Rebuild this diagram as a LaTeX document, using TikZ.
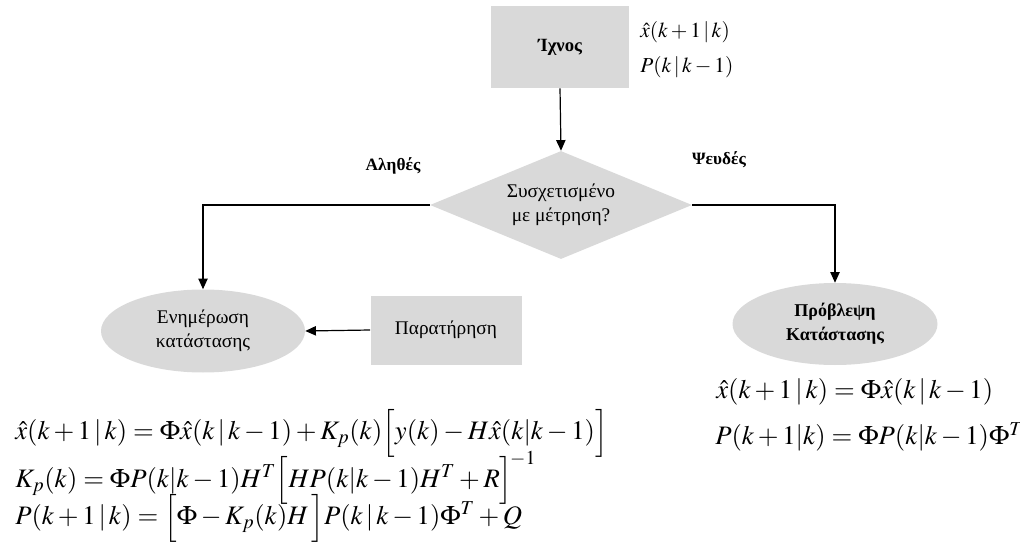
\documentclass[tikz,border=0pt]{standalone}
\usepackage{mathptmx}
\usepackage[no-math]{fontspec}
\setmainfont{Liberation Serif}
\usetikzlibrary{shapes.geometric,arrows.meta}
\definecolor{boxgray}{RGB}{217,217,217}
\begin{document}
\begin{tikzpicture}[x=0.75pt,y=-0.75pt,
  lbl/.style={font=\fontsize{14.5}{18}\selectfont, align=center},
  rectbox/.style={rectangle, fill=boxgray, draw=none, inner sep=0pt, lbl},
  decbox/.style={diamond, fill=boxgray, draw=none, inner sep=0pt, aspect=2.4, lbl},
  ovalbox/.style={ellipse, fill=boxgray, draw=none, inner sep=0pt, lbl},
  flow/.style={draw=black, line width=0.9pt, -{Triangle[length=8pt,width=7pt]}},
  eq/.style={font=\fontsize{20}{24}\selectfont, anchor=west, inner sep=0pt},
  smalleq/.style={font=\fontsize{16}{19}\selectfont, anchor=west, inner sep=0pt},
  tag/.style={font=\fontsize{13}{17}\selectfont\bfseries, inner sep=0pt}]
  \useasboundingbox (0,0) rectangle (1020,545);

  % flowchart nodes
  \node[rectbox, minimum width=103.5pt, minimum height=61.5pt, font=\fontsize{14}{17}\selectfont\bfseries]
       (trace) at (560,47) {Ίχνος};
  \node[decbox, minimum width=196.5pt, minimum height=81pt] (decide) at (561,205)
       {Συσχετισμένο\\με μέτρηση?};
  \node[ovalbox, minimum width=153pt, minimum height=62.25pt] (update) at (203,331)
       {Ενημέρωση\\κατάστασης};
  \node[rectbox, minimum width=113.25pt, minimum height=51.75pt] (obs) at (446,330) {Παρατήρηση};
  \node[ovalbox, minimum width=153.75pt, minimum height=61.5pt, font=\fontsize{13.5}{18}\selectfont\bfseries]
       (predict) at (835,324) {Πρόβλεψη\\Κατάστασης};

  % branch labels
  \node[tag] (yes) at (393,166) {Αληθές};
  \node[tag] (no) at (719,160) {Ψευδές};

  % track quantities
  \node[smalleq] (xtrk) at (640,32) {$\hat{x}(k+1\,|\,k)$};
  \node[smalleq] (ptrk) at (640,67) {$P(k\,|\,k-1)$};

  % connectors
  \draw[flow] (trace.south) -- (decide.north);
  \draw[flow] (decide.west) -| (update.north);
  \draw[flow] (decide.east) -| (predict.north);
  \draw[flow] (obs.west) -- (update.east);

  % prediction equations
  \node[eq] (pred1) at (716,392) {$\hat{x}(k+1\,|\,k)=\Phi\hat{x}(k\,|\,k-1)$};
  \node[eq] (pred2) at (715,437) {$P(k+1|k)=\Phi P(k|k-1)\Phi^{T}$};

  % update equations
  \node[eq] (upd1) at (15,433)
    {$\hat{x}(k+1\,|\,k)=\Phi\hat{x}(k\,|\,k-1)+K_{p}(k)\Big[y(k)-H\hat{x}(k|k-1)\Big]$};
  \node[eq] (upd2) at (15,478)
    {$K_{p}(k)=\Phi P(k|k-1)H^{T}\Big[HP(k|k-1)H^{T}+R\Big]^{\!-1}$};
  \node[eq] (upd3) at (15,518)
    {$P(k+1\,|\,k)=\Big[\Phi-K_{p}(k)H\,\Big]P(k\,|\,k-1)\Phi^{T}+Q$};
\end{tikzpicture}
\end{document}
